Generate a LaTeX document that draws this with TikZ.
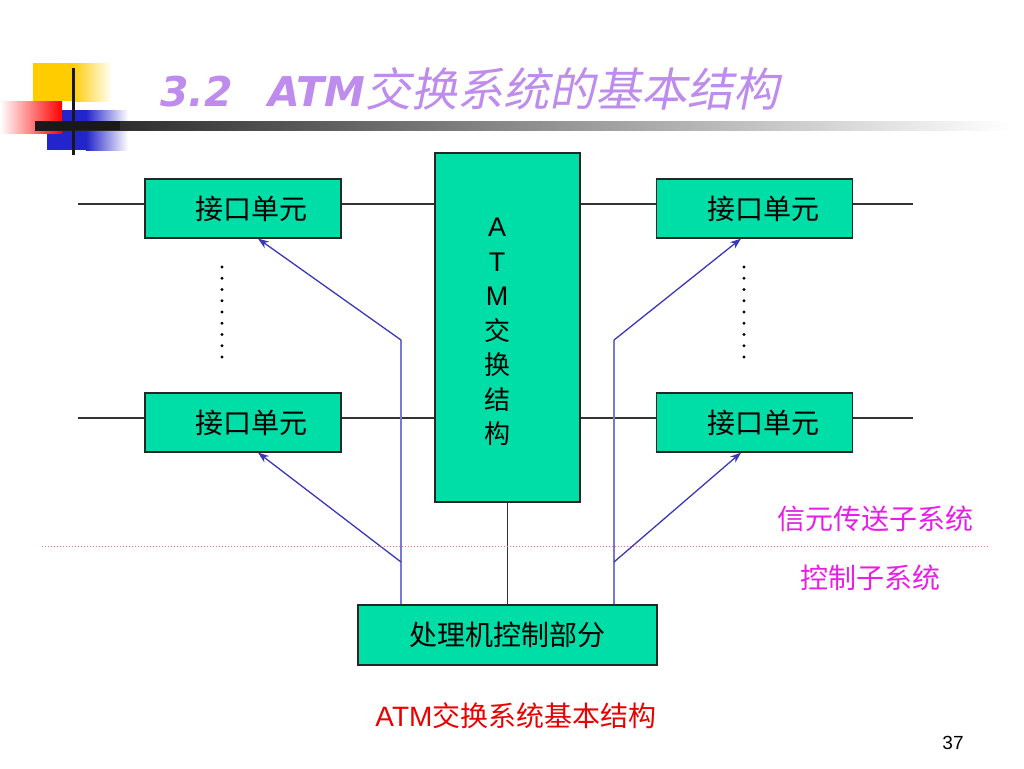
\documentclass[tikz,border=0pt]{standalone}
\usepackage{fontspec}
\setmainfont{Liberation Sans}
\newfontfamily\cjk{Noto Sans CJK SC}
\newfontfamily\cjkit{Noto Sans CJK SC}[FakeSlant=0.2]
\newfontfamily\titlelat{DejaVu Sans}
\usetikzlibrary{arrows.meta}
\definecolor{boxgreen}{RGB}{0,222,168}
\definecolor{ctlblue}{RGB}{56,56,184}
\definecolor{ctlblueL}{RGB}{120,120,220}
\definecolor{titlev}{RGB}{190,140,236}
\definecolor{sepred}{RGB}{230,120,120}
\definecolor{labmag}{RGB}{230,30,230}
\definecolor{capred}{RGB}{235,0,0}
\definecolor{decoyel}{RGB}{255,204,0}
\definecolor{decoblue}{RGB}{36,36,204}
\tikzset{
  unitbox/.style={draw=black!85, line width=1.2pt, fill=boxgreen, minimum width=196pt, minimum height=59pt, inner sep=0pt, font=\cjk\fontsize{28}{30}\selectfont},
  atmbox/.style={draw=black!85, line width=1.2pt, fill=boxgreen, minimum width=145pt, minimum height=349pt, inner sep=0pt},
  procbox/.style={draw=black!85, line width=1.2pt, fill=boxgreen, minimum width=299pt, minimum height=60pt, inner sep=0pt, font=\cjk\fontsize{28}{30}\selectfont},
  wire/.style={draw=black!80, line width=1.2pt},
  ctl/.style={draw=ctlblue, line width=1.3pt},
  ctlv/.style={draw=ctlblueL, line width=1.3pt},
  ctlarrow/.style={ctl, -{Stealth[length=11pt,width=8pt]}},
  maglab/.style={text=labmag, font=\cjk\fontsize{28}{30}\selectfont, inner sep=0pt},
}
\begin{document}
\begin{tikzpicture}[x=1pt,y=-1pt]
\useasboundingbox (0,0) rectangle (1024,768);
% --- decoration ---
\fill[decoyel] (33,63) rectangle (72,101);
\shade[left color=decoyel, right color=white] (72,63) rectangle (112,101);
\fill[decoblue] (47,110) rectangle (86,150);
\shade[left color=decoblue, right color=white] (86,110) rectangle (128,150);
\shade[left color=white, right color=red] (0,101) rectangle (62,133);
\shade[left color=black!90, right color=white] (35,121) rectangle (1010,130);
\fill[black!90] (35,121) rectangle (120,130);
\fill[black!90] (72,68) rectangle (75,155);
% --- title ---
\node[anchor=base west, text=titlev, inner sep=0pt] (title) at (160,106)
  {{\titlelat\fontsize{41}{46}\selectfont\bfseries\itshape 3.2\hspace{36pt}ATM}{\cjkit\fontsize{46}{48}\selectfont 交换系统的基本结构}};
% --- nodes ---
\node[atmbox] (atm) at (507.5,327.5) {};
\node[align=center, inner sep=0pt, font=\fontsize{27}{34.5}\selectfont] (atmtxt) at (497,332)
  {A\\T\\M\\{\cjk\fontsize{26}{34.5}\selectfont 交}\\{\cjk\fontsize{26}{34.5}\selectfont 换}\\{\cjk\fontsize{26}{34.5}\selectfont 结}\\{\cjk\fontsize{26}{34.5}\selectfont 构}};
\node[unitbox, execute at begin node=\hspace{16pt}] (ifL1) at (243,208.5) {接口单元};
\node[unitbox, execute at begin node=\hspace{16pt}] (ifL2) at (243,422.5) {接口单元};
\node[unitbox, execute at begin node=\hspace{18pt}] (ifR1) at (754.5,208.5) {接口单元};
\node[unitbox, execute at begin node=\hspace{18pt}] (ifR2) at (754.5,422.5) {接口单元};
\node[procbox] (proc) at (507.5,635) {处理机控制部分};
% --- free ends ---
\coordinate (eL1) at (78,204);
\coordinate (eL2) at (78,418);
\coordinate (eR1) at (913,204);
\coordinate (eR2) at (913,418);
\coordinate (aL) at (401,340);
\coordinate (bL) at (401,562);
\coordinate (aR) at (614,340);
\coordinate (bR) at (614,562);
% --- wires ---
\draw[wire] (eL1) -- (eL1 -| ifL1.west);
\draw[wire] (eL1 -| ifL1.east) -- (eL1 -| atm.west);
\draw[wire] (eL2) -- (eL2 -| ifL2.west);
\draw[wire] (eL2 -| ifL2.east) -- (eL2 -| atm.west);
\draw[wire] (eR1 -| atm.east) -- (eR1 -| ifR1.west);
\draw[wire] (eR1 -| ifR1.east) -- (eR1);
\draw[wire] (eR2 -| atm.east) -- (eR2 -| ifR2.west);
\draw[wire] (eR2 -| ifR2.east) -- (eR2);
\draw[wire] (atm.south) -- (atm.south |- proc.north);
% --- control lines ---
\draw[ctlv] (proc.north -| aL) -- (aL);
\draw[ctlv] (proc.north -| aR) -- (aR);
\draw[ctlarrow] (aL) -- ([xshift=15pt]ifL1.south);
\draw[ctlarrow] (bL) -- ([xshift=15pt]ifL2.south);
\draw[ctlarrow] (aR) -- ([xshift=-13.5pt]ifR1.south);
\draw[ctlarrow] (bR) -- ([xshift=-13.5pt]ifR2.south);
% --- dots ---
\foreach \i in {0,...,8} {
  \fill (222,267+11.25*\i) circle (1.6pt);
  \fill (744,267+11.25*\i) circle (1.6pt);
}
% --- separator ---
\draw[sepred, line width=1pt, dotted] (42,546) -- (990,546);
\node[maglab] (lab1) at (875,519) {信元传送子系统};
\node[maglab] (lab2) at (870,578) {控制子系统};
% --- caption and page ---
\node[text=capred, inner sep=0pt, font=\fontsize{28}{30}\selectfont] (cap) at (516,716) {ATM{\cjk 交换系统基本结构}};
\node[inner sep=0pt, font=\fontsize{19}{22}\selectfont] (page) at (953,743) {37};
\end{tikzpicture}
\end{document}
